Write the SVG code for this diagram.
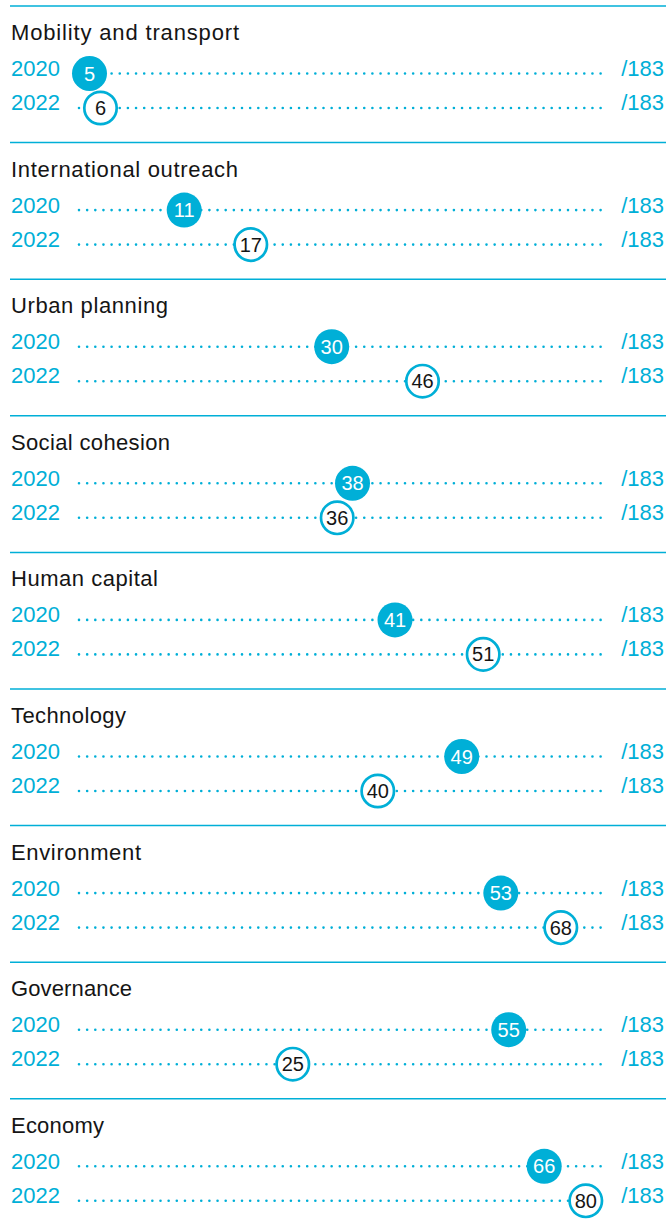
<svg xmlns="http://www.w3.org/2000/svg" width="666" height="1231" viewBox="0 0 666 1231">
<style>
.sep{stroke:#00AFD7;stroke-width:1.5}
.dots{stroke:#00AFD7;stroke-width:2.6;stroke-linecap:round;stroke-dasharray:0 8.15;fill:none}
.title{font-family:"Liberation Sans",Arial,sans-serif;font-size:22px;fill:#151515}
.yr{font-family:"Liberation Sans",Arial,sans-serif;font-size:22px;fill:#00AFD7}
.tot{font-family:"Liberation Sans",Arial,sans-serif;font-size:22px;fill:#00AFD7;text-anchor:end}
.c20{fill:#00AFD7}
.c22{fill:#ffffff;stroke:#00AFD7;stroke-width:2.7}
.n20{font-family:"Liberation Sans",Arial,sans-serif;font-size:20px;fill:#ffffff;text-anchor:middle}
.n22{font-family:"Liberation Sans",Arial,sans-serif;font-size:20px;fill:#151515;text-anchor:middle}
</style>
<rect width="666" height="1231" fill="#ffffff"/>

<g id="mobility" transform="translate(0,0)">
<line class="sep" x1="10" y1="6" x2="666" y2="6"/>
<text class="title" x="11" y="40" textLength="228" lengthAdjust="spacing">Mobility and transport</text>
<text class="yr" x="11" y="76">2020</text><text class="tot" x="664" y="76">/183</text>
<text class="yr" x="11" y="110">2022</text><text class="tot" x="664" y="110">/183</text>
<line class="dots" x1="79" y1="73.5" x2="601" y2="73.5"/>
<line class="dots" x1="79" y1="108" x2="601" y2="108"/>
<g id="mobility-2020"><circle class="c20" cx="89.5" cy="73.5" r="17.5"/><text class="n20" x="89.5" y="80.6">5</text></g>
<g id="mobility-2022"><circle class="c22" cx="100.5" cy="108" r="16.2"/><text class="n22" x="100.5" y="115.1">6</text></g>
</g>

<g id="international" transform="translate(0,136.6)">
<line class="sep" x1="10" y1="6" x2="666" y2="6"/>
<text class="title" x="11" y="40" textLength="227" lengthAdjust="spacing">International outreach</text>
<text class="yr" x="11" y="76">2020</text><text class="tot" x="664" y="76">/183</text>
<text class="yr" x="11" y="110">2022</text><text class="tot" x="664" y="110">/183</text>
<line class="dots" x1="79" y1="73.5" x2="601" y2="73.5"/>
<line class="dots" x1="79" y1="108" x2="601" y2="108"/>
<g id="international-2020"><circle class="c20" cx="184.2" cy="73.5" r="17.5"/><text class="n20" x="184.2" y="80.6">11</text></g>
<g id="international-2022"><circle class="c22" cx="250.8" cy="108" r="16.2"/><text class="n22" x="250.8" y="115.1">17</text></g>
</g>

<g id="urban" transform="translate(0,273.2)">
<line class="sep" x1="10" y1="6" x2="666" y2="6"/>
<text class="title" x="11" y="40" textLength="157" lengthAdjust="spacing">Urban planning</text>
<text class="yr" x="11" y="76">2020</text><text class="tot" x="664" y="76">/183</text>
<text class="yr" x="11" y="110">2022</text><text class="tot" x="664" y="110">/183</text>
<line class="dots" x1="79" y1="73.5" x2="601" y2="73.5"/>
<line class="dots" x1="79" y1="108" x2="601" y2="108"/>
<g id="urban-2020"><circle class="c20" cx="331.7" cy="73.5" r="17.5"/><text class="n20" x="331.7" y="80.6">30</text></g>
<g id="urban-2022"><circle class="c22" cx="422.5" cy="108" r="16.2"/><text class="n22" x="422.5" y="115.1">46</text></g>
</g>

<g id="social" transform="translate(0,409.8)">
<line class="sep" x1="10" y1="6" x2="666" y2="6"/>
<text class="title" x="11" y="40" textLength="159" lengthAdjust="spacing">Social cohesion</text>
<text class="yr" x="11" y="76">2020</text><text class="tot" x="664" y="76">/183</text>
<text class="yr" x="11" y="110">2022</text><text class="tot" x="664" y="110">/183</text>
<line class="dots" x1="79" y1="73.5" x2="601" y2="73.5"/>
<line class="dots" x1="79" y1="108" x2="601" y2="108"/>
<g id="social-2020"><circle class="c20" cx="352.5" cy="73.5" r="17.5"/><text class="n20" x="352.5" y="80.6">38</text></g>
<g id="social-2022"><circle class="c22" cx="337.2" cy="108" r="16.2"/><text class="n22" x="337.2" y="115.1">36</text></g>
</g>

<g id="human" transform="translate(0,546.4)">
<line class="sep" x1="10" y1="6" x2="666" y2="6"/>
<text class="title" x="11" y="40" textLength="147" lengthAdjust="spacing">Human capital</text>
<text class="yr" x="11" y="76">2020</text><text class="tot" x="664" y="76">/183</text>
<text class="yr" x="11" y="110">2022</text><text class="tot" x="664" y="110">/183</text>
<line class="dots" x1="79" y1="73.5" x2="601" y2="73.5"/>
<line class="dots" x1="79" y1="108" x2="601" y2="108"/>
<g id="human-2020"><circle class="c20" cx="395" cy="73.5" r="17.5"/><text class="n20" x="395" y="80.6">41</text></g>
<g id="human-2022"><circle class="c22" cx="483.2" cy="108" r="16.2"/><text class="n22" x="483.2" y="115.1">51</text></g>
</g>

<g id="technology" transform="translate(0,683)">
<line class="sep" x1="10" y1="6" x2="666" y2="6"/>
<text class="title" x="11" y="40" textLength="115" lengthAdjust="spacing">Technology</text>
<text class="yr" x="11" y="76">2020</text><text class="tot" x="664" y="76">/183</text>
<text class="yr" x="11" y="110">2022</text><text class="tot" x="664" y="110">/183</text>
<line class="dots" x1="79" y1="73.5" x2="601" y2="73.5"/>
<line class="dots" x1="79" y1="108" x2="601" y2="108"/>
<g id="technology-2020"><circle class="c20" cx="461.7" cy="73.5" r="17.5"/><text class="n20" x="461.7" y="80.6">49</text></g>
<g id="technology-2022"><circle class="c22" cx="377.8" cy="108" r="16.2"/><text class="n22" x="377.8" y="115.1">40</text></g>
</g>

<g id="environment" transform="translate(0,819.6)">
<line class="sep" x1="10" y1="6" x2="666" y2="6"/>
<text class="title" x="11" y="40" textLength="130" lengthAdjust="spacing">Environment</text>
<text class="yr" x="11" y="76">2020</text><text class="tot" x="664" y="76">/183</text>
<text class="yr" x="11" y="110">2022</text><text class="tot" x="664" y="110">/183</text>
<line class="dots" x1="79" y1="73.5" x2="601" y2="73.5"/>
<line class="dots" x1="79" y1="108" x2="601" y2="108"/>
<g id="environment-2020"><circle class="c20" cx="500.8" cy="73.5" r="17.5"/><text class="n20" x="500.8" y="80.6">53</text></g>
<g id="environment-2022"><circle class="c22" cx="560.8" cy="108" r="16.2"/><text class="n22" x="560.8" y="115.1">68</text></g>
</g>

<g id="governance" transform="translate(0,956.2)">
<line class="sep" x1="10" y1="6" x2="666" y2="6"/>
<text class="title" x="11" y="40" textLength="121" lengthAdjust="spacing">Governance</text>
<text class="yr" x="11" y="76">2020</text><text class="tot" x="664" y="76">/183</text>
<text class="yr" x="11" y="110">2022</text><text class="tot" x="664" y="110">/183</text>
<line class="dots" x1="79" y1="73.5" x2="601" y2="73.5"/>
<line class="dots" x1="79" y1="108" x2="601" y2="108"/>
<g id="governance-2020"><circle class="c20" cx="508.7" cy="73.5" r="17.5"/><text class="n20" x="508.7" y="80.6">55</text></g>
<g id="governance-2022"><circle class="c22" cx="292.8" cy="108" r="16.2"/><text class="n22" x="292.8" y="115.1">25</text></g>
</g>

<g id="economy" transform="translate(0,1092.8)">
<line class="sep" x1="10" y1="6" x2="666" y2="6"/>
<text class="title" x="11" y="40" textLength="93" lengthAdjust="spacing">Economy</text>
<text class="yr" x="11" y="76">2020</text><text class="tot" x="664" y="76">/183</text>
<text class="yr" x="11" y="110">2022</text><text class="tot" x="664" y="110">/183</text>
<line class="dots" x1="79" y1="73.5" x2="601" y2="73.5"/>
<line class="dots" x1="79" y1="108" x2="601" y2="108"/>
<g id="economy-2020"><circle class="c20" cx="544.2" cy="73.5" r="17.5"/><text class="n20" x="544.2" y="80.6">66</text></g>
<g id="economy-2022"><circle class="c22" cx="585.8" cy="108" r="16.2"/><text class="n22" x="585.8" y="115.1">80</text></g>
</g>
</svg>
